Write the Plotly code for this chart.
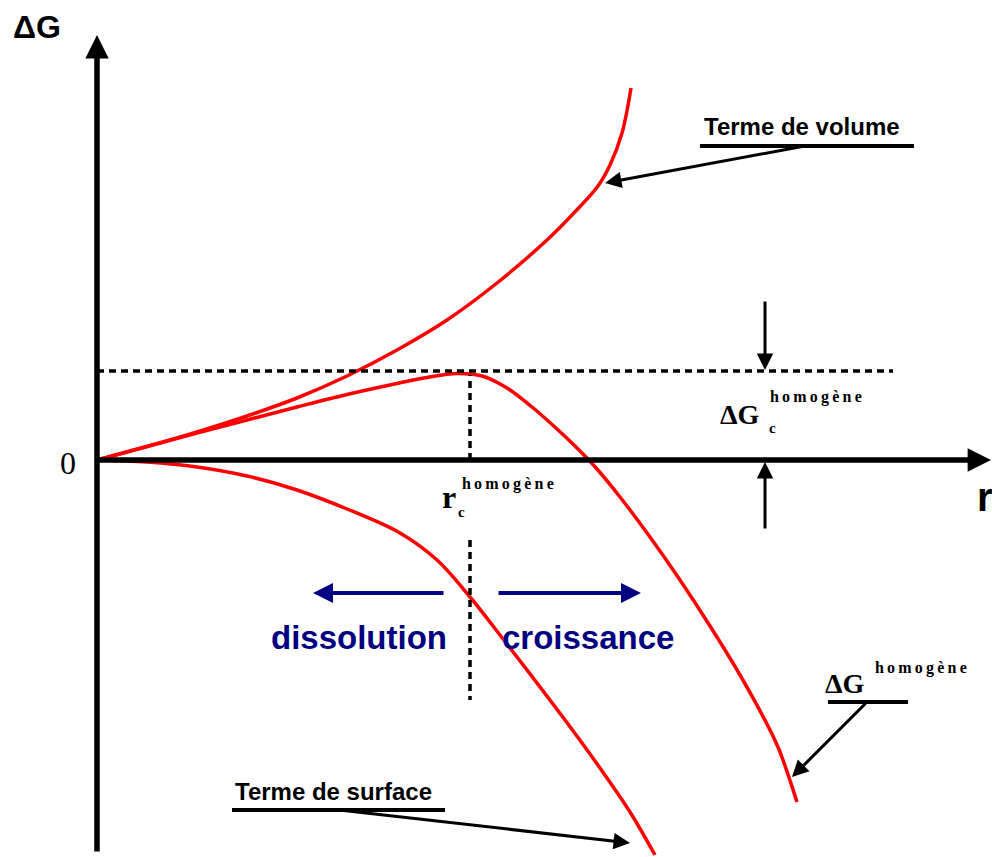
import plotly.graph_objects as go

# ---------------- data (arbitrary units: r, ΔG) ----------------
vol_r = [0, 0.5, 1.0, 1.5, 2.0, 2.5, 3.0, 3.5, 4.0, 4.5, 4.75, 5.01, 5.13, 5.25, 5.34]
vol_g = [0, 0.135, 0.28, 0.44, 0.62, 0.84, 1.10, 1.40, 1.77, 2.20, 2.45, 2.74, 2.95, 3.27, 3.72]

tot_r = [0, 0.5, 1.0, 1.5, 2.0, 2.5, 3.0, 3.3, 3.6, 3.85, 4.1, 4.35, 4.6, 4.8, 5.0, 5.23, 5.53, 5.83, 6.13, 6.43, 6.73, 6.83, 7.0]
tot_g = [0, 0.135, 0.27, 0.40, 0.53, 0.655, 0.765, 0.825, 0.865, 0.84, 0.72, 0.53, 0.31, 0.12, -0.09, -0.37, -0.77, -1.20, -1.66, -2.15, -2.70, -2.92, -3.42]

surf_r = [0, 0.5, 1.0, 1.5, 2.0, 2.5, 3.03, 3.4, 3.73, 4.03, 4.68, 5.03, 5.33, 5.58]
surf_g = [0, -0.02, -0.07, -0.16, -0.30, -0.49, -0.73, -1.00, -1.37, -1.75, -2.60, -3.08, -3.52, -3.95]

r_crit = 3.73      # r_c homogène
g_crit = 0.89      # ΔG_c homogène
dash_end = 7.96

W, H = 992, 857
XR = [-0.97, 8.95]
YR = [-3.97, 4.60]

def X(px):   # page pixel -> data
    return XR[0] + px / W * (XR[1] - XR[0])

def Y(py):
    return YR[1] - py / H * (YR[1] - YR[0])

RED = "#FF0000"
NAVY = "#000080"
SERIF = "Liberation Serif"
SANS = "Liberation Sans"

fig = go.Figure()
for rr, gg in [(vol_r, vol_g), (tot_r, tot_g), (surf_r, surf_g)]:
    fig.add_trace(go.Scatter(x=rr, y=gg, mode="lines",
                             line=dict(color=RED, width=3.5, shape="spline", smoothing=1.0),
                             hoverinfo="skip", showlegend=False))

DASH = dict(color="black", width=3.5, dash="7px,5px")
shapes = []
shapes.append(dict(type="line", x0=0, x1=dash_end, y0=g_crit, y1=g_crit, line=DASH))
shapes.append(dict(type="line", x0=r_crit, x1=r_crit, y0=0, y1=Y(375), line=DASH))
shapes.append(dict(type="line", x0=r_crit, x1=r_crit, y0=Y(540), y1=Y(700), line=DASH))
for x0, x1, yy in [(700, 914, 146), (232, 445, 810), (828, 908, 702)]:
    shapes.append(dict(type="line", x0=X(x0), x1=X(x1), y0=Y(yy), y1=Y(yy),
                       line=dict(color="black", width=4)))

ann = []

def arrow(tx, ty, hx, hy, color="black", width=3, head=2, size=1.0):
    ann.append(dict(x=X(hx), y=Y(hy), ax=X(tx), ay=Y(ty), xref="x", yref="y",
                    axref="x", ayref="y", text="", showarrow=True,
                    arrowhead=head, arrowsize=size, arrowwidth=width,
                    arrowcolor=color, standoff=0, startstandoff=0))

# axes
arrow(97, 853, 97, 35, width=5.5, head=2, size=0.85)
arrow(95, 460, 991, 460, width=5.5, head=2, size=0.85)
# pointer arrows
arrow(805, 146, 605, 183, size=1.1)
arrow(340, 810, 630, 843, size=1.1)
arrow(867, 702, 792, 777, size=1.1)
arrow(765, 300, 765, 370, size=1.1)
arrow(765, 530, 765, 462, size=1.1)
# dissolution / croissance arrows
arrow(445, 593, 313, 593, color=NAVY, width=4, size=1.0)
arrow(497, 593, 641, 593, color=NAVY, width=4, size=1.0)

def text(s, px, py, size, family, color="black", bold=True, xanchor="center"):
    ann.append(dict(x=X(px), y=Y(py), xref="x", yref="y", text=s, showarrow=False,
                    xanchor=xanchor, yanchor="middle",
                    font=dict(family=family, size=size, color=color,
                              weight="bold" if bold else "normal")))

HOMO = "h\u2009o\u2009m\u2009o\u2009g\u2009è\u2009n\u2009e"

text("ΔG", 37, 27, 32, SANS)
text("r", 975, 497, 40, SANS, xanchor="left")
text("0", 68, 463, 32, SERIF, bold=False)
text("Terme de volume", 802, 126, 24, SANS)
text("Terme de surface", 333, 791, 24, SANS)
text("dissolution", 359, 637, 33, SANS, color=NAVY)
text("croissance", 588, 637, 33, SANS, color=NAVY)
# ΔG homogène (pointer label)
text("ΔG", 845, 683, 28, SERIF)
text(HOMO, 921, 668, 16, SERIF)
# ΔG_c homogène
text("ΔG", 740, 414, 28, SERIF)
text("c", 772, 428, 15, SERIF)
text(HOMO, 816, 397, 16, SERIF)
# r_c homogène
text("r", 449, 497, 32, SERIF)
text("c", 461, 512, 15, SERIF)
text(HOMO, 508, 484, 16, SERIF)

fig.update_layout(
    width=W, height=H, margin=dict(l=0, r=0, t=0, b=0, pad=0),
    paper_bgcolor="white", plot_bgcolor="white",
    xaxis=dict(range=XR, visible=False, fixedrange=True),
    yaxis=dict(range=YR, visible=False, fixedrange=True),
    shapes=shapes, annotations=ann, showlegend=False,
)
fig.write_html("out.html", config={"displayModeBar": False},
               post_script="document.body.style.margin='0px';document.body.style.overflow='hidden';")
